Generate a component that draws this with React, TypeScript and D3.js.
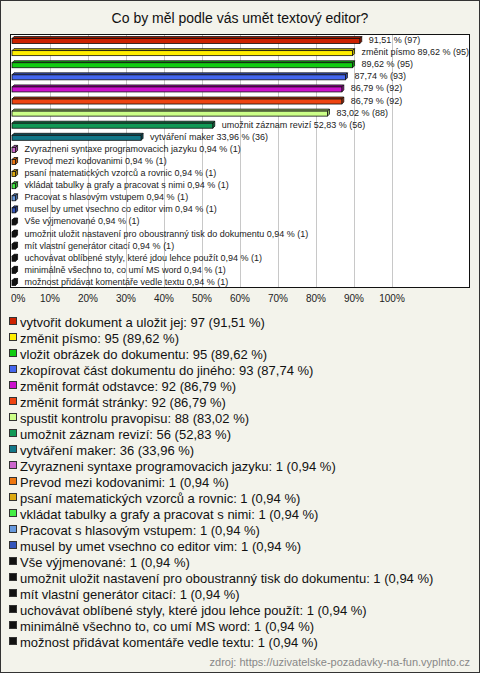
import React from "react";
import * as d3 from "d3";

const title = "Co by měl podle vás umět textový editor?";
const source = "zdroj: https://uzivatelske-pozadavky-na-fun.vyplnto.cz";

const categories = [
  "vytvořit dokument a uložit jej",
  "změnit písmo",
  "vložit obrázek do dokumentu",
  "zkopírovat část dokumentu do jiného",
  "změnit formát odstavce",
  "změnit formát stránky",
  "spustit kontrolu pravopisu",
  "umožnit záznam revizí",
  "vytváření maker",
  "Zvyrazneni syntaxe programovacich jazyku",
  "Prevod mezi kodovanimi",
  "psaní matematických vzorců a rovnic",
  "vkládat tabulky a grafy a pracovat s nimi",
  "Pracovat s hlasovým vstupem",
  "musel by umet vsechno co editor vim",
  "Vše výjmenované",
  "umožnit uložit nastavení pro oboustranný tisk do dokumentu",
  "mít vlastní generátor citací",
  "uchovávat oblíbené styly, které jdou lehce použít",
  "minimálně všechno to, co umí MS word",
  "možnost přidávat komentáře vedle textu",
];

const counts = [97, 95, 95, 93, 92, 92, 88, 56, 36, 1, 1, 1, 1, 1, 1, 1, 1, 1, 1, 1, 1];

const percents = [
  91.51, 89.62, 89.62, 87.74, 86.79, 86.79, 83.02, 52.83, 33.96,
  0.94, 0.94, 0.94, 0.94, 0.94, 0.94, 0.94, 0.94, 0.94, 0.94, 0.94, 0.94,
];

const showNameInBarLabel = [
  false, true, false, false, false, false, false, true, true,
  true, true, true, true, true, true, true, true, true, true, true, true,
];

const colors = [
  "#cc2200", "#ffee00", "#11cc11", "#4466ee", "#cc11cc", "#ee4411",
  "#ccff88", "#119955", "#117788", "#cc66cc", "#ee7711", "#ddaa11",
  "#44ee44", "#6699dd", "#3355bb", "#111111", "#111111", "#111111",
  "#111111", "#111111", "#111111",
];

const xTicks = [0, 10, 20, 30, 40, 50, 60, 70, 80, 90, 100];

const fmt = (v: number) => v.toFixed(2).replace(".", ",");
const FONT = "Arial, 'Liberation Sans', sans-serif";

export default function App() {
  const W = 480;
  const H = 673;
  const plot = { x0: 10, x1: 470, y0: 34, y1: 288 };
  const x = d3.scaleLinear().domain([0, 100]).range([12, 392]);
  const y = d3
    .scaleBand<number>()
    .domain(d3.range(categories.length))
    .range([plot.y0, plot.y1])
    .paddingInner(0)
    .paddingOuter(0);
  const legendY = d3
    .scaleLinear()
    .domain([0, categories.length - 1])
    .range([322, 642]);
  const barH = 5;
  const d = 2;

  return (
    <div style={{ position: "absolute", left: 0, top: 0 }}>
      <svg width={W} height={H} style={{ display: "block" }} fontFamily={FONT}>
        <defs>
          <clipPath id="plotClip">
            <rect x={plot.x0} y={plot.y0} width={plot.x1 - plot.x0} height={plot.y1 - plot.y0} />
          </clipPath>
        </defs>
        <rect x={0.5} y={0.5} width={W - 1} height={H - 1} fill="#f3f3eb" stroke="#333" />
        <text x={W / 2} y={23} textAnchor="middle" fontSize={14} fill="#111">
          {title}
        </text>
        <rect
          x={plot.x0 + 0.5}
          y={plot.y0 + 0.5}
          width={plot.x1 - plot.x0 - 1}
          height={plot.y1 - plot.y0 - 1}
          fill="#fff"
          stroke="#111"
        />
        {xTicks.slice(1).map((t) => (
          <line
            key={t}
            x1={Math.round(x(t)) + 0.5}
            x2={Math.round(x(t)) + 0.5}
            y1={plot.y0 + 1}
            y2={plot.y1 - 1}
            stroke="#c8c8c8"
          />
        ))}
        {xTicks.map((t, i) => (
          <text
            key={"t" + t}
            x={i === 0 ? 11 : x(t)}
            y={302}
            textAnchor={i === 0 ? "start" : "middle"}
            fontSize={10}
            fill="#222"
          >
            {t}%
          </text>
        ))}
        <g clipPath="url(#plotClip)">
          {categories.map((c, i) => {
            const x0 = x(0);
            const xe = x(percents[i]);
            const w = xe - x0;
            const cy = (y(i) as number) + y.bandwidth() / 2;
            const top = cy - barH / 2 + 1;
            const dark = d3.color(colors[i])!.darker(0.8).toString();
            const topFace = `M${x0},${top}L${x0 + d},${top - d}L${xe + d},${top - d}L${xe},${top}Z`;
            const rightFace = `M${xe},${top}L${xe + d},${top - d}L${xe + d},${top + barH - d}L${xe},${top + barH}Z`;
            const label =
              (showNameInBarLabel[i] ? c + " " : "") + `${fmt(percents[i])} % (${counts[i]})`;
            return (
              <g key={c}>
                <path d={topFace} fill={dark} stroke="#111" strokeWidth={0.8} />
                <path d={rightFace} fill={dark} stroke="#111" strokeWidth={0.8} />
                <rect x={x0} y={top} width={w} height={barH} fill={colors[i]} stroke="#111" strokeWidth={0.8} />
                <text x={xe + 9} y={cy + 3} fontSize={9} fill="#222">
                  {label}
                </text>
              </g>
            );
          })}
        </g>
        {categories.map((c, i) => {
          const ly = legendY(i);
          return (
            <g key={"l" + c}>
              <rect x={9.5} y={ly - 4.5} width={7} height={7} fill={colors[i]} stroke="#333" />
              <text x={20} y={ly + 4.5} fontSize={13} fill="#111">
                {`${c}: ${counts[i]} (${fmt(percents[i])} %)`}
              </text>
            </g>
          );
        })}
        <text x={470} y={666} textAnchor="end" fontSize={11} fill="#888">
          {source}
        </text>
      </svg>
    </div>
  );
}
